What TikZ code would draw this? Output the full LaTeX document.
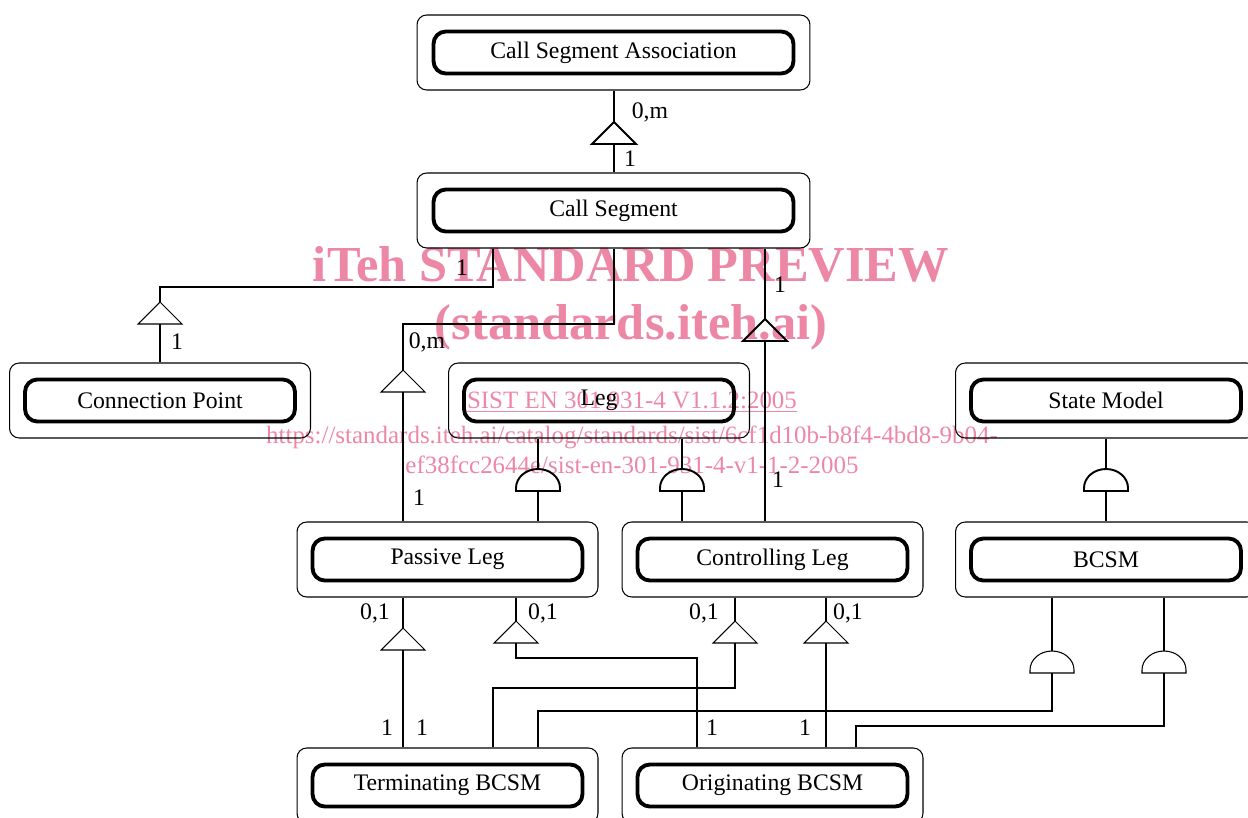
\documentclass[tikz,border=0pt]{standalone}
\usepackage{fontspec}
\setmainfont{Liberation Serif}
\definecolor{wmpink}{RGB}{237,135,166}

\begin{document}
\begin{tikzpicture}[x=0.02cm, y=-0.02cm,
	every node/.style={font=\fontsize{13.5pt}{16pt}\selectfont, inner sep=0pt},
	outer/.style={draw, rounded corners=5.5pt, line width=0.6pt, minimum width=6.02cm, minimum height=1.5cm},
	inner/.style={draw, rounded corners=7pt, line width=2.2pt, minimum width=5.4cm, minimum height=0.84cm},
	wide/.style={minimum width=7.86cm},
	wide inner/.style={minimum width=7.2cm},
	link/.style={line width=0.6pt},
	heavy/.style={line width=1.1pt},
	wmark/.style={text=wmpink, font=\fontsize{14.2pt}{17pt}\selectfont},
	wmark big/.style={text=wmpink, font=\fontsize{28.7pt}{32pt}\selectfont\bfseries}]
		
		\useasboundingbox (0,0) rectangle (1248,818);
		
		\node[wmark big] (W1) at (631,264) {iTeh STANDARD PREVIEW};
		\node[wmark big] (W2) at (631,327) {(standards.iteh.ai)};
		\node[wmark] (W3) at (632,402) {\underline{SIST EN 301 931-4 V1.1.2:2005}};
		\node[wmark] (W4) at (632,437) {https://standards.iteh.ai/catalog/standards/sist/6cf1d10b-b8f4-4bd8-9b04-};
		\node[wmark] (W5) at (632,465) {ef38fcc2644e/sist-en-301-931-4-v1-1-2-2005};
		
		\node[outer, wide] (CSA) at (613.5,52.5) {};
		\node[inner, wide inner] (CSA') at (CSA) {Call Segment Association};
		\node[outer, wide] (CS) at (613.5,210.5) {};
		\node[inner, wide inner] (CS') at (CS) {Call Segment};
		\node[outer] (CP) at (160,400.5) {};
		\node[inner] (CP') at (CP) {Connection Point};
		\node[outer] (Leg) at (599,400.5) {};
		\node[inner] (Leg') at (Leg) {Leg};
		\node[outer] (SM) at (1106,400.5) {};
		\node[inner] (SM') at (SM) {State Model};
		\node[outer] (PL) at (447.5,559.5) {};
		\node[inner] (PL') at (PL) {Passive Leg};
		\node[outer] (CL) at (772.5,559.5) {};
		\node[inner] (CL') at (CL) {Controlling Leg};
		\node[outer] (BCSM) at (1106,559.5) {};
		\node[inner] (BCSM') at (BCSM) {BCSM};
		\node[outer] (TB) at (447.5,785.5) {};
		\node[inner] (TB') at (TB) {Terminating BCSM};
		\node[outer] (OB) at (772.5,785.5) {};
		\node[inner] (OB') at (OB) {Originating BCSM};
		
		\coordinate (t1) at (614,122);
		\coordinate (t1b) at (614,144);
		\draw[heavy] (CSA.south -| t1) -- (t1);
		\draw[heavy] (t1) -- ++(22,22) -- ++(-44,0) -- cycle;
		\draw[heavy] (t1b) -- (t1b |- CS.north);
		\node (m1) at (650,112) {0,m};
		\node (n1) at (630,159) {1};
		
		\coordinate (c2) at (493,287);
		\coordinate (t2) at (160,302);
		\coordinate (t2b) at (160,324);
		\draw[link] (CS.south -| c2) -- (c2) -| (t2);
		\draw[link] (t2) -- ++(22,22) -- ++(-44,0) -- cycle;
		\draw[link] (t2b) -- (t2b |- CP.north);
		\node (m2) at (462,268) {1};
		\node (n2) at (177,342) {1};
		
		\coordinate (c3) at (614,324);
		\coordinate (t3) at (403,370);
		\coordinate (t3b) at (403,392);
		\draw[link] (CS.south -| c3) -- (c3) -| (t3);
		\draw[link] (t3) -- ++(22,22) -- ++(-44,0) -- cycle;
		\draw[link] (t3b) -- (t3b |- PL.north);
		\node (m3) at (427,342) {0,m};
		\node (n3) at (419,498) {1};
		
		\coordinate (t4) at (765,319);
		\coordinate (t4b) at (765,341);
		\draw[heavy] (CS.south -| t4) -- (t4);
		\draw[heavy] (t4) -- ++(22,22) -- ++(-44,0) -- cycle;
		\draw[heavy] (t4b) -- (t4b |- CL.north);
		\node (m4) at (780,285) {1};
		\node (n4) at (778,480) {1};
		
		\coordinate (h5) at (538,469);
		\coordinate (h5b) at (538,491);
		\draw[heavy] (Leg.south -| h5) -- (h5);
		\draw[heavy] (h5b) ++(-22,0) -- ++(0,-3) arc[start angle=180, end angle=360, x radius=22, y radius=19] -- ++(0,3) -- cycle;
		\draw[heavy] (h5b) -- (h5b |- PL.north);
		
		\coordinate (h6) at (682,469);
		\coordinate (h6b) at (682,491);
		\draw[heavy] (Leg.south -| h6) -- (h6);
		\draw[heavy] (h6b) ++(-22,0) -- ++(0,-3) arc[start angle=180, end angle=360, x radius=22, y radius=19] -- ++(0,3) -- cycle;
		\draw[heavy] (h6b) -- (h6b |- CL.north);
		
		\coordinate (h7) at (1106,469);
		\coordinate (h7b) at (1106,491);
		\draw[heavy] (SM.south -| h7) -- (h7);
		\draw[heavy] (h7b) ++(-22,0) -- ++(0,-3) arc[start angle=180, end angle=360, x radius=22, y radius=19] -- ++(0,3) -- cycle;
		\draw[heavy] (h7b) -- (h7b |- BCSM.north);
		
		\coordinate (t8) at (403,628);
		\coordinate (t8b) at (403,650);
		\draw[link] (PL.south -| t8) -- (t8);
		\draw[link] (t8) -- ++(22,22) -- ++(-44,0) -- cycle;
		\draw[link] (t8b) -- (t8b |- TB.north);
		\node (m8) at (375,613) {0,1};
		\node (n8) at (387,728) {1};
		
		\coordinate (t9) at (516,621);
		\coordinate (t9b) at (516,643);
		\coordinate (c9) at (697,658);
		\draw[link] (PL.south -| t9) -- (t9);
		\draw[link] (t9) -- ++(22,22) -- ++(-44,0) -- cycle;
		\draw[link] (t9b) |- (c9) -- (c9 |- OB.north);
		\node (m9) at (543,613) {0,1};
		\node (n9) at (712,728) {1};
		
		\coordinate (t10) at (735,621);
		\coordinate (t10b) at (735,643);
		\coordinate (c10) at (493,688);
		\draw[link] (CL.south -| t10) -- (t10);
		\draw[link] (t10) -- ++(22,22) -- ++(-44,0) -- cycle;
		\draw[link] (t10b) |- (c10) -- (c10 |- TB.north);
		\node (m10) at (704,613) {0,1};
		\node (n10) at (422,728) {1};
		
		\coordinate (t11) at (826,621);
		\coordinate (t11b) at (826,643);
		\draw[link] (CL.south -| t11) -- (t11);
		\draw[link] (t11) -- ++(22,22) -- ++(-44,0) -- cycle;
		\draw[heavy] (t11b) -- (t11b |- OB.north);
		\node (m11) at (848,613) {0,1};
		\node (n11) at (805,728) {1};
		
		\coordinate (h12) at (1052,651);
		\coordinate (h12b) at (1052,673);
		\coordinate (c12) at (538,711);
		\draw[link] (BCSM.south -| h12) -- (h12);
		\draw[link] (h12b) ++(-22,0) -- ++(0,-3) arc[start angle=180, end angle=360, x radius=22, y radius=19] -- ++(0,3) -- cycle;
		\draw[link] (h12b) |- (c12) -- (c12 |- TB.north);
		
		\coordinate (h13) at (1164,651);
		\coordinate (h13b) at (1164,673);
		\coordinate (c13) at (856,726);
		\draw[link] (BCSM.south -| h13) -- (h13);
		\draw[link] (h13b) ++(-22,0) -- ++(0,-3) arc[start angle=180, end angle=360, x radius=22, y radius=19] -- ++(0,3) -- cycle;
		\draw[link] (h13b) |- (c13) -- (c13 |- OB.north);
	\end{tikzpicture}
\end{document}
